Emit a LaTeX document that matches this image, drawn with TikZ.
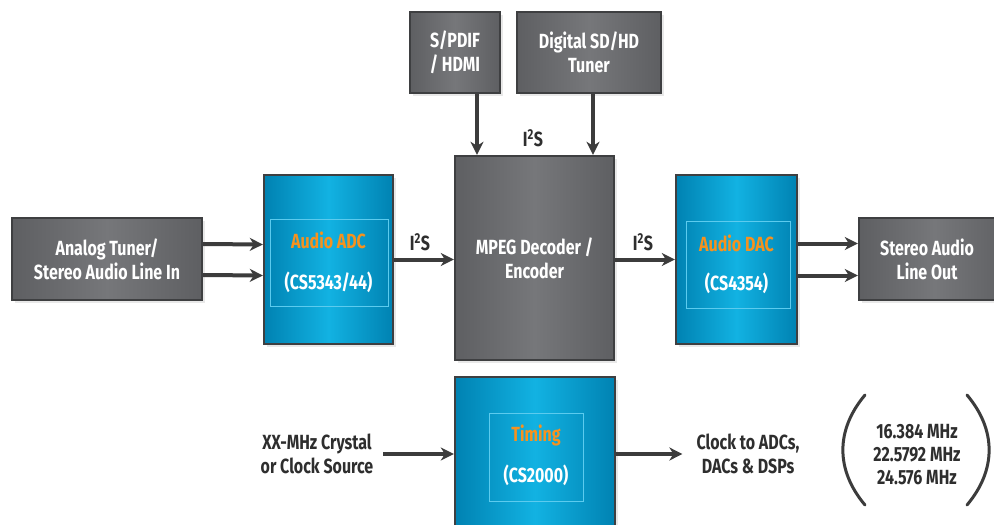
\documentclass[tikz,border=0pt]{standalone}
\usepackage{fontspec}
\setmainfont{Fira Sans}[FakeStretch=0.78]
\usetikzlibrary{arrows.meta,shadows}
\definecolor{gedge}{HTML}{3E3F41}
\definecolor{gdark}{HTML}{5E5F62}
\definecolor{glight}{HTML}{76777A}
\definecolor{bdark}{HTML}{0082B2}
\definecolor{blight}{HTML}{12B2E2}
\definecolor{binner}{HTML}{5CCBEE}
\definecolor{orangetxt}{HTML}{F6921E}
\definecolor{arrowgray}{HTML}{3C3C3C}
\definecolor{txtgray}{HTML}{2E2E2E}
\begin{document}
\begin{tikzpicture}[x=1pt,y=-1pt,
  lbl/.style={font=\fontsize{20.5}{24}\selectfont\bfseries, align=center, inner sep=2pt},
  graybox/.style={draw=gedge, line width=2.4pt, shading=axis, shading angle=30,
    left color=gdark, right color=gdark, middle color=glight,
    text=white, lbl, drop shadow={opacity=0.18, shadow xshift=3pt, shadow yshift=-3pt}},
  bluebox/.style={draw=gedge, line width=2.4pt, shading=axis, shading angle=35,
    left color=bdark, right color=bdark, middle color=blight,
    drop shadow={opacity=0.18, shadow xshift=3pt, shadow yshift=-3pt}},
  innerbox/.style={draw=binner, line width=0.6pt, fill=none},
  title/.style={lbl, text=orangetxt},
  part/.style={lbl, text=white},
  outtxt/.style={lbl, text=txtgray},
  arr/.style={draw=arrowgray, line width=4pt, -{Stealth[length=13pt,width=13pt,inset=4pt]}},
  paren/.style={draw=arrowgray, line width=3pt, line cap=round}
]
\useasboundingbox (0,0) rectangle (994,525);
\fill[white] (0,0) rectangle (994,525);

% top sources
\node[graybox, minimum width=90pt, minimum height=81pt] (spdif) at (455,52.5) {S/PDIF\\/ HDMI};
\node[graybox, minimum width=144pt, minimum height=81pt] (digital) at (589,52.5) {Digital SD/HD\\Tuner};

% main row
\node[graybox, minimum width=190pt, minimum height=82pt] (analog) at (107,259) {Analog Tuner/\\Stereo Audio Line In};
\node[bluebox, minimum width=129pt, minimum height=169pt] (adc) at (328.5,259.5) {};
\node[innerbox, minimum width=118pt, minimum height=87pt] (adcin) at (329,262.5) {};
\node[title] (adct) at (328.5,240) {Audio ADC};
\node[part] (adcp) at (328.5,282) {(CS5343/44)};

\node[graybox, minimum width=159pt, minimum height=204pt] (mpeg) at (534.5,258) {MPEG Decoder /\\Encoder};

\node[bluebox, minimum width=121pt, minimum height=169pt] (dac) at (736.5,259.5) {};
\node[innerbox, minimum width=104pt, minimum height=87pt] (dacin) at (738,264.5) {};
\node[title] (dact) at (736.5,243) {Audio DAC};
\node[part] (dacp) at (736.5,283) {(CS4354)};

\node[graybox, minimum width=151pt, minimum height=82pt] (lineout) at (934.5,259) {};
\node[part] (lineoutt) at (927,259) {Stereo Audio\\Line Out};

% timing row
\node[bluebox, minimum width=160pt, minimum height=183pt] (timing) at (535,468.5) {};
\node[innerbox, minimum width=94pt, minimum height=88pt] (timin) at (536,457) {};
\node[title] (timt) at (536,435) {Timing};
\node[part] (timp) at (536,475) {(CS2000)};

\node[outtxt] (xtal) at (317,454) {XX-MHz Crystal\\or Clock Source};
\node[outtxt] (clock) at (748,454) {Clock to ADCs,\\DACs \& DSPs};
\node[outtxt, font=\fontsize{20.5}{23}\selectfont\bfseries] (freq) at (917,455) {16.384 MHz\\22.5792 MHz\\24.576 MHz};

% I2S labels
\node[outtxt] (i2sa) at (420,242) {I\textsuperscript{2}S};
\node[outtxt] (i2sb) at (533,138) {I\textsuperscript{2}S};
\node[outtxt] (i2sc) at (643,242) {I\textsuperscript{2}S};

% connectors
\draw[arr] ([yshift=15pt]analog.east) -- ([yshift=15pt]adc.west);
\draw[arr] ([yshift=-16pt]analog.east) -- ([yshift=-16pt]adc.west);
\draw[arr] (adc.east) -- (mpeg.west |- adc.east);
\draw[arr] ([xshift=22pt]spdif.south) coordinate (s1) -- (s1 |- mpeg.north);
\draw[arr] ([xshift=4pt]digital.south) coordinate (s2) -- (s2 |- mpeg.north);
\draw[arr] (mpeg.east |- dac.west) -- (dac.west);
\draw[arr] ([yshift=16pt]dac.east) -- ([yshift=16pt]dac.east -| lineout.west);
\draw[arr] ([yshift=-16pt]dac.east) -- ([yshift=-16pt]dac.east -| lineout.west);
\draw[arr, shorten <=8pt] (xtal.east) -- (timing.west |- xtal.east);
\draw[arr, shorten >=12pt] (timing.east |- clock.west) -- (clock.west);

% parentheses
\draw[paren] (865,395) .. controls (835.5,430) and (835.5,470) .. (865,505);
\draw[paren] (967,395) .. controls (996.5,430) and (996.5,470) .. (967,505);
\end{tikzpicture}
\end{document}
